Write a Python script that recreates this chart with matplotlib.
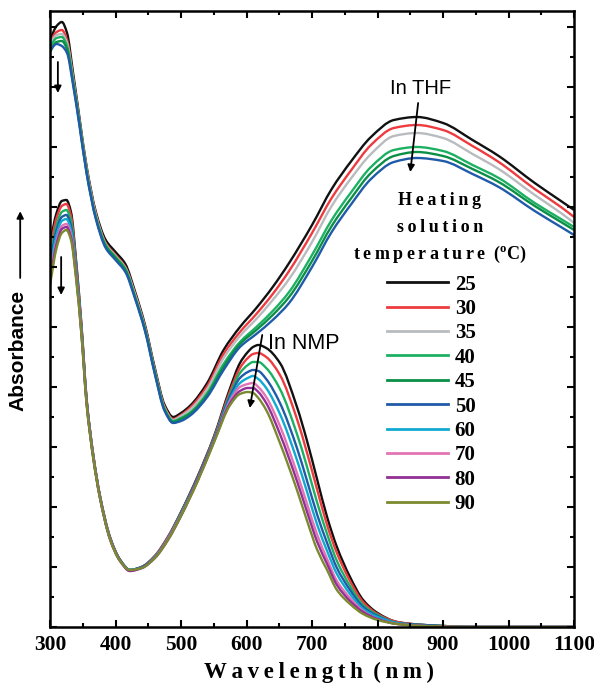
import matplotlib
matplotlib.use("Agg")
import numpy as np
import matplotlib.pyplot as plt
from matplotlib.lines import Line2D
from matplotlib.path import Path
from matplotlib.patches import PathPatch
from matplotlib.ticker import MultipleLocator

# wavelength grids (nm)
wl_thf = [300, 310, 318, 326, 335, 345, 356, 370, 385, 400, 415, 430, 445, 460, 475, 488,
          500, 515, 540, 565, 590, 615, 640, 665, 700, 730, 760, 790, 825, 860, 900, 945,
          985, 1040, 1080, 1100]
wl_nmp = [300, 310, 318, 325, 332, 340, 348, 356, 366, 376, 392, 407, 422, 440, 460, 480,
          500, 525, 550, 575, 590, 602, 610, 618, 630, 651, 677, 692, 708, 723, 738, 758,
          778, 800, 830, 870, 950, 1100]

# THF spectra (offset, arbitrary units)
thf_25 = [5.87, 6.01, 6.05, 5.94, 5.55, 5.09, 4.60, 4.15, 3.87, 3.75, 3.63, 3.35, 3.02, 2.59,
          2.22, 2.10, 2.14, 2.22, 2.44, 2.77, 3.00, 3.19, 3.40, 3.64, 4.02, 4.38, 4.66, 4.90,
          5.07, 5.10, 5.04, 4.87, 4.71, 4.44, 4.26, 4.17]
thf_30 = [5.85, 5.95, 5.97, 5.87, 5.51, 5.06, 4.58, 4.13, 3.84, 3.72, 3.60, 3.33, 3.00, 2.57,
          2.20, 2.08, 2.12, 2.20, 2.41, 2.73, 2.95, 3.13, 3.33, 3.56, 3.94, 4.29, 4.57, 4.82,
          4.99, 5.02, 4.97, 4.81, 4.65, 4.38, 4.20, 4.10]
thf_35 = [5.83, 5.92, 5.93, 5.84, 5.49, 5.05, 4.57, 4.12, 3.83, 3.71, 3.59, 3.32, 2.99, 2.56,
          2.19, 2.07, 2.11, 2.18, 2.38, 2.69, 2.91, 3.08, 3.27, 3.48, 3.85, 4.21, 4.49, 4.73,
          4.91, 4.94, 4.89, 4.73, 4.58, 4.32, 4.14, 4.04]
thf_40 = [5.80, 5.89, 5.90, 5.81, 5.47, 5.04, 4.55, 4.10, 3.82, 3.70, 3.58, 3.30, 2.98, 2.55,
          2.18, 2.06, 2.09, 2.15, 2.34, 2.63, 2.85, 3.00, 3.16, 3.35, 3.72, 4.07, 4.35, 4.60,
          4.77, 4.80, 4.76, 4.62, 4.49, 4.24, 4.08, 4.00]
thf_45 = [5.75, 5.85, 5.86, 5.78, 5.45, 5.03, 4.54, 4.09, 3.81, 3.69, 3.57, 3.29, 2.97, 2.54,
          2.17, 2.05, 2.08, 2.14, 2.32, 2.60, 2.83, 2.97, 3.12, 3.30, 3.66, 4.01, 4.29, 4.54,
          4.71, 4.75, 4.71, 4.58, 4.45, 4.21, 4.05, 3.97]
thf_50 = [5.77, 5.83, 5.81, 5.74, 5.43, 5.01, 4.53, 4.08, 3.79, 3.67, 3.55, 3.28, 2.96, 2.53,
          2.16, 2.04, 2.06, 2.12, 2.30, 2.57, 2.80, 2.93, 3.07, 3.24, 3.60, 3.95, 4.23, 4.48,
          4.65, 4.69, 4.66, 4.53, 4.40, 4.16, 4.00, 3.92]

# NMP spectra
nmp_25 = [3.84, 4.14, 4.26, 4.27, 4.15, 3.65, 3.02, 2.27, 1.72, 1.32, 0.89, 0.67, 0.57, 0.60,
          0.71, 0.90, 1.15, 1.50, 1.90, 2.39, 2.64, 2.75, 2.80, 2.82, 2.79, 2.64, 2.20, 1.87,
          1.47, 1.10, 0.80, 0.50, 0.27, 0.14, 0.05, 0.02, 0.00, 0.00]
nmp_30 = [3.78, 4.09, 4.21, 4.23, 4.11, 3.62, 3.00, 2.26, 1.72, 1.32, 0.89, 0.67, 0.57, 0.60,
          0.71, 0.90, 1.14, 1.49, 1.89, 2.36, 2.59, 2.69, 2.73, 2.74, 2.70, 2.52, 2.08, 1.75,
          1.37, 1.02, 0.74, 0.46, 0.25, 0.13, 0.05, 0.02, 0.00, 0.00]
nmp_40 = [3.70, 4.02, 4.15, 4.17, 4.06, 3.59, 2.99, 2.25, 1.71, 1.31, 0.88, 0.67, 0.57, 0.60,
          0.70, 0.89, 1.14, 1.48, 1.88, 2.33, 2.54, 2.62, 2.65, 2.65, 2.59, 2.38, 1.93, 1.61,
          1.24, 0.93, 0.66, 0.41, 0.22, 0.12, 0.04, 0.02, 0.00, 0.00]
nmp_50 = [3.63, 3.97, 4.10, 4.12, 4.01, 3.56, 2.97, 2.25, 1.71, 1.31, 0.88, 0.67, 0.57, 0.60,
          0.70, 0.89, 1.13, 1.48, 1.87, 2.31, 2.49, 2.55, 2.57, 2.56, 2.48, 2.24, 1.79, 1.47,
          1.12, 0.84, 0.59, 0.37, 0.20, 0.11, 0.04, 0.02, 0.00, 0.00]
nmp_60 = [3.57, 3.92, 4.06, 4.08, 3.97, 3.54, 2.96, 2.24, 1.70, 1.31, 0.88, 0.66, 0.57, 0.59,
          0.70, 0.88, 1.12, 1.47, 1.86, 2.28, 2.44, 2.49, 2.51, 2.48, 2.39, 2.13, 1.67, 1.36,
          1.02, 0.76, 0.53, 0.33, 0.18, 0.10, 0.04, 0.01, 0.00, 0.00]
nmp_70 = [3.51, 3.86, 4.01, 4.03, 3.93, 3.51, 2.94, 2.23, 1.70, 1.30, 0.87, 0.66, 0.56, 0.59,
          0.69, 0.88, 1.12, 1.46, 1.85, 2.26, 2.40, 2.43, 2.44, 2.40, 2.30, 2.01, 1.54, 1.24,
          0.92, 0.68, 0.46, 0.29, 0.16, 0.08, 0.03, 0.01, 0.00, 0.00]
nmp_80 = [3.47, 3.83, 3.98, 4.00, 3.90, 3.49, 2.93, 2.23, 1.69, 1.30, 0.87, 0.66, 0.56, 0.59,
          0.69, 0.87, 1.11, 1.46, 1.85, 2.24, 2.36, 2.39, 2.39, 2.35, 2.24, 1.93, 1.46, 1.16,
          0.85, 0.63, 0.42, 0.26, 0.15, 0.08, 0.03, 0.01, 0.00, 0.00]
nmp_90 = [3.42, 3.79, 3.94, 3.97, 3.87, 3.47, 2.92, 2.22, 1.69, 1.30, 0.87, 0.66, 0.57, 0.59,
          0.69, 0.87, 1.11, 1.45, 1.84, 2.22, 2.33, 2.35, 2.34, 2.29, 2.17, 1.84, 1.37, 1.07,
          0.77, 0.57, 0.37, 0.23, 0.13, 0.07, 0.03, 0.01, 0.00, 0.00]

temps = ["25", "30", "35", "40", "45", "50", "60", "70", "80", "90"]
colors = {"25": "#111111", "30": "#ee3b3f", "35": "#b9bcbe", "40": "#1db063",
          "45": "#0b8f46", "50": "#1f5ba8", "60": "#10a9d0", "70": "#e274b6",
          "80": "#923095", "90": "#7b8a2e"}

thf = {"25": thf_25, "30": thf_30, "35": thf_35, "40": thf_40, "45": thf_45, "50": thf_50}
nmp = {"25": nmp_25, "30": nmp_30, "40": nmp_40, "50": nmp_50, "60": nmp_60,
       "70": nmp_70, "80": nmp_80, "90": nmp_90}

SERIF = ["Liberation Serif", "DejaVu Serif"]
plt.rcParams["mathtext.fontset"] = "custom"
plt.rcParams["mathtext.rm"] = "Liberation Serif:bold"


def smooth_path(x, y):
    """Bezier path through the points, monotone tangents (no overshoot)"""
    x = np.asarray(x, float)
    y = np.asarray(y, float)
    h = np.diff(x)
    d = np.diff(y) / h
    m = np.zeros_like(y)
    m[0], m[-1] = d[0], d[-1]
    for i in range(1, len(x) - 1):
        if d[i - 1] * d[i] > 0:
            w1 = 2 * h[i] + h[i - 1]
            w2 = h[i] + 2 * h[i - 1]
            m[i] = (w1 + w2) / (w1 / d[i - 1] + w2 / d[i])
    verts = [(x[0], y[0])]
    codes = [Path.MOVETO]
    for i in range(len(h)):
        verts += [(x[i] + h[i] / 3, y[i] + m[i] * h[i] / 3),
                  (x[i + 1] - h[i] / 3, y[i + 1] - m[i + 1] * h[i] / 3),
                  (x[i + 1], y[i + 1])]
        codes += [Path.CURVE4] * 3
    return Path(verts, codes)


def spaced(s):
    return "\u2009".join(s)


fig = plt.figure(figsize=(5.94, 6.88), dpi=100)
ax = fig.add_axes([0.0842, 0.0887, 0.8822, 0.8953])

for t, y in nmp.items():
    ax.add_patch(PathPatch(smooth_path(wl_nmp, y), fill=False, edgecolor=colors[t], lw=1.7))
for t, y in thf.items():
    ax.add_patch(PathPatch(smooth_path(wl_thf, y), fill=False, edgecolor=colors[t], lw=1.7))

ax.set_xlim(300, 1100)
ax.set_ylim(0, 6.16)
ax.xaxis.set_major_locator(MultipleLocator(100))
ax.xaxis.set_minor_locator(MultipleLocator(50))
ax.yaxis.set_major_locator(MultipleLocator(0.6))
ax.yaxis.set_minor_locator(MultipleLocator(0.3))
ax.set_yticklabels([])
ax.tick_params(which="both", direction="in", top=True, right=True, width=1.5)
ax.tick_params(which="major", length=5, pad=6)
ax.tick_params(which="minor", length=3)
for lab in ax.get_xticklabels():
    lab.set_family(SERIF)
    lab.set_weight("bold")
    lab.set_fontsize(15.5)
for s in ax.spines.values():
    s.set_linewidth(1.8)

ax.set_xlabel(spaced("Wavelength") + "\u2009 " + spaced("(nm)"), fontsize=16.5,
              labelpad=5, family=SERIF, weight="bold")
ax.xaxis.label.set_x(0.513)

# y label with arrow
fig.text(0.030, 0.491, "Absorbance", rotation=90, ha="center", va="center",
         fontsize=15, family="Liberation Sans", weight="bold")
fig.add_artist(plt.Annotation("", xy=(0.034, 0.697), xytext=(0.034, 0.592),
                              xycoords="figure fraction", textcoords="figure fraction",
                              arrowprops=dict(arrowstyle="-|>", color="black", lw=1.3,
                                              mutation_scale=10)))

arrow = dict(arrowstyle="-|>", color="black", lw=1.3, mutation_scale=10, shrinkA=0, shrinkB=0)
ax.annotate("", xy=(850, 4.55), xytext=(862, 5.24), arrowprops=arrow)
ax.text(866, 5.39, "In THF", ha="center", va="center", fontsize=14.5, family="Liberation Sans")
ax.annotate("", xy=(605, 2.19), xytext=(624, 2.92), arrowprops=arrow)
ax.text(633, 2.83, "In NMP", ha="left", va="center", fontsize=15.5, family="Liberation Sans")
ax.annotate("", xy=(312, 5.34), xytext=(312, 5.65), arrowprops=arrow)
ax.annotate("", xy=(317, 3.32), xytext=(317, 3.70), arrowprops=arrow)

# legend title, drawn separately (it sits off-centre from the entries)
title_lines = [spaced("Heating"), spaced("solution"),
               spaced("temperature") + "\u2009 (" + "$^{\\rm o}$" + "C)"]
for line, yf in zip(title_lines, [0.693, 0.649, 0.604]):
    ax.text(0.744, yf, line, transform=ax.transAxes, ha="center", va="center",
            fontsize=13, family=SERIF, weight="bold")

handles = [Line2D([], [], color=colors[t], lw=2) for t in temps]
leg = ax.legend(handles, temps, loc="upper left", bbox_to_anchor=(0.643, 0.572),
                frameon=False, handlelength=2.95, handletextpad=0.3, labelspacing=0.21,
                borderpad=0, borderaxespad=0,
                prop=dict(size=15, family=SERIF, weight="bold"))

fig.savefig("out.png", dpi=100)
